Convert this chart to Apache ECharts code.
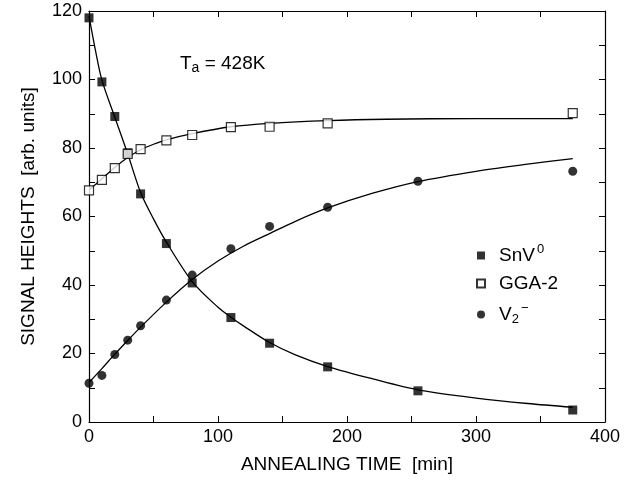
<!DOCTYPE html>
<html>
<head>
<meta charset="utf-8">
<script src="https://cdn.jsdelivr.net/npm/echarts@6/dist/echarts.min.js"></script>
<style>
html,body{margin:0;padding:0;background:#fff;}
#c{width:639px;height:481px;}
</style>
</head>
<body>
<div id="c"></div>
<script>
// measured data points
var xSnV = [0, 10, 20, 30, 40, 60, 80, 110, 140, 185, 255, 375];
var ySnV = [118, 99.3, 89.2, 78.6, 66.6, 52.1, 40.6, 30.5, 23, 16.1, 9.1, 3.5];
var xGGA = [0, 10, 20, 30, 40, 60, 80, 110, 140, 185, 375];
var yGGA = [67.6, 70.7, 74.1, 78.3, 79.7, 82.2, 83.8, 86.1, 86.2, 87.2, 90.2];
var xV2 = [0, 10, 20, 30, 40, 60, 80, 110, 140, 185, 255, 375];
var yV2 = [11.3, 13.6, 19.7, 23.9, 28.1, 35.6, 42.9, 50.6, 57.1, 62.7, 70.3, 73.2];

// fitted curves
var xFitSnV = [0, 5, 10, 20, 30, 40, 50, 60, 80, 100, 110, 120, 140, 160, 185, 220, 255, 300, 340, 375];
var yFitSnV = [118.5, 108.5, 99.8, 89, 78.3, 67, 59.3, 52.5, 41, 33.5, 30.6, 28, 23.2, 19.6, 16.2, 12.6, 9.4, 7.0, 5.4, 4.3];
var xFitGGA = [0, 10, 20, 30, 40, 50, 60, 80, 110, 140, 185, 230, 300, 375];
var yFitGGA = [67.7, 71, 74.3, 77.2, 79.5, 81.1, 82.4, 84.2, 86.2, 87.2, 88.0, 88.4, 88.6, 88.6];
var xFitV2 = [0, 10, 20, 30, 40, 60, 80, 100, 120, 140, 160, 185, 220, 255, 300, 340, 375];
var yFitV2 = [11.5, 15.6, 19.8, 23.8, 27.7, 35.0, 41.6, 47.0, 51.4, 55.0, 58.6, 62.5, 66.8, 70.2, 73.2, 75.3, 76.9];

var xTicks = [0, 100, 200, 300, 400];
var yTicks = [0, 20, 40, 60, 80, 100, 120];

function pairs(xs, ys) { return xs.map(function (x, i) { return [x, ys[i]]; }); }

var FONT = 'Liberation Sans, Arial, Helvetica, sans-serif';
var chart = echarts.init(document.getElementById('c'), null, {renderer: 'canvas'});

var axisCommon = {
  axisLine: {show: true, onZero: false, lineStyle: {color: '#000', width: 1.2}},
  axisTick: {show: true, inside: true, length: 6, lineStyle: {color: '#000', width: 1}},
  minorTick: {show: true, splitNumber: 2, length: 6, lineStyle: {color: '#000', width: 1}},
  splitLine: {show: false}
};

var option = {
  animation: false,
  backgroundColor: '#fff',
  textStyle: {fontFamily: FONT},
  grid: {left: 89, right: 34, top: 11, bottom: 59},
  title: {
    left: 175, top: 48,
    text: '{t|T}{s|a}{t| = 428K}',
    textStyle: {
      fontWeight: 'normal',
      rich: {
        t: {fontFamily: FONT, fontSize: 19, fontWeight: 'normal', color: '#000'},
        s: {fontFamily: FONT, fontSize: 14, fontWeight: 'normal', color: '#000', verticalAlign: 'bottom', padding: [8, 0, 0, 0]}
      }
    }
  },
  legend: {
    orient: 'vertical',
    left: 471, top: 238,
    itemWidth: 8, itemHeight: 8,
    itemGap: 9,
    data: ['SnV', 'GGA-2', 'V2'],
    formatter: function (n) {
      if (n === 'SnV') return '{b|SnV}{sup|0}';
      if (n === 'GGA-2') return '{b|GGA-2}';
      return '{b|V}{sub|2}{sup|\u2212}';
    },
    textStyle: {
      padding: [0, 0, 0, 9],
      rich: {
        b: {fontFamily: FONT, fontSize: 19, color: '#000'},
        sup: {fontFamily: FONT, fontSize: 13, color: '#000', padding: [0, 0, 12, 2]},
        sub: {fontFamily: FONT, fontSize: 13, color: '#000', padding: [10, 0, 0, 0]}
      }
    }
  },
  xAxis: [
    Object.assign({}, axisCommon, {
      type: 'value', position: 'bottom', min: 0, max: 400, interval: 100,
      name: 'ANNEALING TIME  [min]', nameLocation: 'middle', nameGap: 33,
      nameTextStyle: {fontFamily: FONT, fontSize: 19, color: '#000'},
      axisLabel: {fontFamily: FONT, fontSize: 18, color: '#000', margin: 6,
        formatter: function (v) { return xTicks.indexOf(v) >= 0 ? String(v) : ''; }}
    }),
    Object.assign({}, axisCommon, {
      type: 'value', position: 'top', min: 0, max: 400, interval: 100,
      axisLabel: {show: false}
    })
  ],
  yAxis: [
    Object.assign({}, axisCommon, {
      type: 'value', position: 'left', min: 0, max: 120, interval: 20,
      name: 'SIGNAL HEIGHTS  [arb. units]', nameLocation: 'middle', nameGap: 51,
      nameTextStyle: {fontFamily: FONT, fontSize: 19, color: '#000'},
      axisLabel: {fontFamily: FONT, fontSize: 18, color: '#000', margin: 7,
        formatter: function (v) { return yTicks.indexOf(v) >= 0 ? String(v) : ''; }}
    }),
    Object.assign({}, axisCommon, {
      type: 'value', position: 'right', min: 0, max: 120, interval: 20,
      axisLabel: {show: false}
    })
  ],
  series: [
    {type: 'line', name: 'fitSnV', data: pairs(xFitSnV, yFitSnV), showSymbol: false, smooth: 0.3,
      lineStyle: {color: '#000', width: 1.3}, z: 1},
    {type: 'line', name: 'fitGGA', data: pairs(xFitGGA, yFitGGA), showSymbol: false, smooth: 0.3,
      lineStyle: {color: '#000', width: 1.3}, z: 1},
    {type: 'line', name: 'fitV2', data: pairs(xFitV2, yFitV2), showSymbol: false, smooth: 0.3,
      lineStyle: {color: '#000', width: 1.3}, z: 1},
    {type: 'scatter', name: 'SnV', data: pairs(xSnV, ySnV), symbol: 'rect', symbolSize: 9,
      itemStyle: {color: '#000'}, z: 3},
    {type: 'scatter', name: 'GGA-2', data: pairs(xGGA, yGGA), symbol: 'rect', symbolSize: 9,
      itemStyle: {color: '#fff', borderColor: '#000', borderWidth: 1.2}, z: 4},
    {type: 'scatter', name: 'V2', data: pairs(xV2, yV2), symbol: 'circle', symbolSize: 9,
      itemStyle: {color: '#000'}, z: 3}
  ]
};
chart.setOption(option);
</script>
</body>
</html>
